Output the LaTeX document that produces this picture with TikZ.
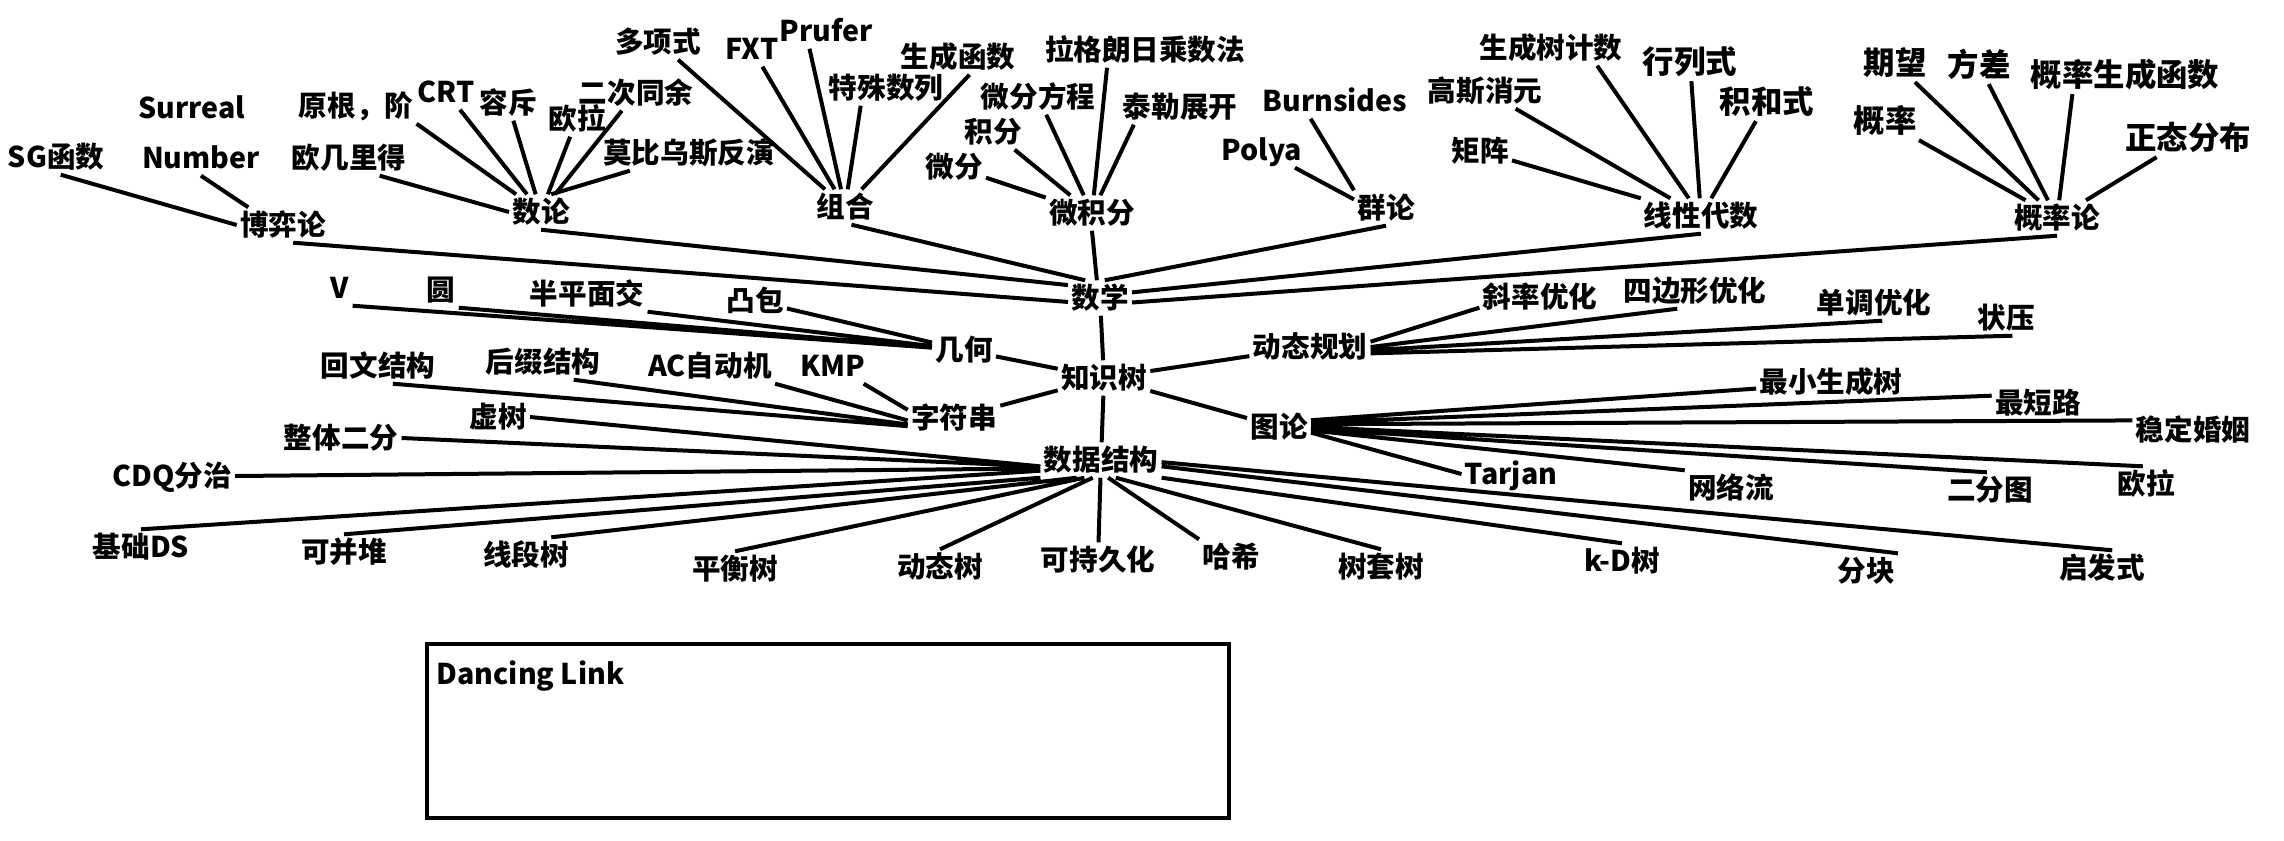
\documentclass[tikz,border=0pt]{standalone}
\usepackage{fontspec}
\setmainfont{Noto Sans CJK SC}
\usepackage{tikz}
\tikzset{
    kt-node/.style = {font=\bfseries\fontsize{10pt}{12pt}\selectfont, inner sep=1pt, text height=8.5pt, text depth=1.5pt},
    kt-big/.style = {kt-node, font=\bfseries\fontsize{11pt}{13pt}\selectfont, text height=9.4pt, text depth=1.6pt},
    kt-line/.style = {line width=1.4pt},
    dl-box/.style = {draw, line width=1.6pt, rectangle, inner sep=0pt, outer sep=0pt, anchor=north west, minimum width=280.7pt, minimum height=60.9pt},
}

\begin{document}
\begin{tikzpicture}[x=0.35pt, y=-0.35pt]
\useasboundingbox (0,0) rectangle (2284,840);

\node[kt-node] (shuxue) at (1100,298) {数学};
\node[kt-node] (zhishi) at (1104,378) {知识树};
\node[kt-node] (jihe) at (964,350) {几何};
\node[kt-node] (zifu) at (954,418) {字符串};
\node[kt-node] (sjjg) at (1101,460) {数据结构};
\node[kt-node] (dp) at (1310,347) {动态规划};
\node[kt-node] (tulun) at (1279,427) {图论};
\node[kt-node] (boyi) at (283,225) {博弈论};
\node[kt-node] (shulun) at (541,212) {数论};
\node[kt-node] (zuhe) at (845,207) {组合};
\node[kt-node] (wjf) at (1092,213) {微积分};
\node[kt-node] (qunlun) at (1386,208) {群论};
\node[kt-node] (xxds) at (1701,216) {线性代数};
\node[kt-node] (gll) at (2057,218) {概率论};

\node[kt-node] (sg) at (56,157) {SG函数};
\node[kt-node] (surreal) at (192,108) {Surreal};
\node[kt-node] (number) at (201,158) {Number};
\node[kt-node] (ojld) at (349,158) {欧几里得};
\node[kt-node] (yuangen) at (356,106) {原根，阶};
\node[kt-node] (crt) at (446,92) {CRT};
\node[kt-node] (rongchi) at (508,103) {容斥};
\node[kt-node] (oula) at (577,119) {欧拉};
\node[kt-node] (ercitong) at (636,93) {二次同余};
\node[kt-node] (mobius) at (689,153) {莫比乌斯反演};
\node[kt-node] (duoxiang) at (658,42) {多项式};
\node[kt-node] (fxt) at (752,49) {FXT};
\node[kt-node] (prufer) at (826,31) {Prufer};
\node[kt-node] (teshu) at (886,88) {特殊数列};
\node[kt-node] (shengcheng) at (958,57) {生成函数};
\node[kt-node] (weifen) at (954,167) {微分};
\node[kt-node] (jifen) at (993,132) {积分};
\node[kt-node] (wffc) at (1038,97) {微分方程};
\node[kt-node] (lagrange) at (1145,50) {拉格朗日乘数法};
\node[kt-node] (taylor) at (1180,107) {泰勒展开};
\node[kt-node] (polya) at (1262,150) {Polya};
\node[kt-node] (burnside) at (1335,101) {Burnsides};
\node[kt-node] (scsjs) at (1551,48) {生成树计数};
\node[kt-node] (gauss) at (1485,91) {高斯消元};
\node[kt-node] (juzhen) at (1480,151) {矩阵};
\node[kt-big] (hls) at (1690,62) {行列式};
\node[kt-big] (jhs) at (1767,102) {积和式};
\node[kt-big] (gailv) at (1885,121) {概率};
\node[kt-big] (qiwang) at (1895,63) {期望};
\node[kt-big] (fangcha) at (1979,65) {方差};
\node[kt-big] (pgf) at (2125,75) {概率生成函数};
\node[kt-big] (normal) at (2188,138) {正态分布};

\node[kt-node] (v) at (340,288) {V};
\node[kt-node] (yuan) at (441,290) {圆};
\node[kt-node] (bpm) at (587,294) {半平面交};
\node[kt-node] (tubao) at (755,301) {凸包};
\node[kt-node] (hwjg) at (378,366) {回文结构};
\node[kt-node] (hzjg) at (543,362) {后缀结构};
\node[kt-node] (ac) at (710,366) {AC自动机};
\node[kt-node] (kmp) at (833,366) {KMP};
\node[kt-node] (xushu) at (498,417) {虚树};
\node[kt-node] (ztef) at (341,438) {整体二分};
\node[kt-node] (cdq) at (172,476) {CDQ分治};
\node[kt-node] (jcds) at (141,547) {基础DS};
\node[kt-node] (kbd) at (344,552) {可并堆};
\node[kt-node] (xds) at (526,555) {线段树};
\node[kt-node] (phs) at (735,569) {平衡树};
\node[kt-node] (dts) at (940,567) {动态树};
\node[kt-node] (kcjh) at (1098,560) {可持久化};
\node[kt-node] (hash) at (1231,557) {哈希};
\node[kt-node] (sts) at (1381,567) {树套树};
\node[kt-node] (kdt) at (1622,561) {k-D树};
\node[kt-node] (fk) at (1866,571) {分块};
\node[kt-node] (qfs) at (2102,568) {启发式};

\node[kt-node] (xlyh) at (1540,297) {斜率优化};
\node[kt-node] (sbx) at (1695,291) {四边形优化};
\node[kt-node] (ddyh) at (1874,303) {单调优化};
\node[kt-node] (zhuangya) at (2006,318) {状压};
\node[kt-node] (zxsc) at (1831,382) {最小生成树};
\node[kt-node] (zdl) at (2038,403) {最短路};
\node[kt-node] (wdhy) at (2193,430) {稳定婚姻};
\node[kt-node] (oula2) at (2146,484) {欧拉};
\node[kt-node] (efi) at (1990,490) {二分图};
\node[kt-node] (wll) at (1731,488) {网络流};
\node[kt-node] (tarjan) at (1511,474) {Tarjan};

\node[dl-box] (dlbox) at (427,644) {};
\node[kt-node, anchor=north west, inner sep=0pt] (dltext) at ([shift={(9,16)}]dlbox.north west) {Dancing Link};

\draw[kt-line] (sg.-75) -- (boyi.west) (number.south) -- (boyi.153) (boyi.-60) -- (shuxue.187);
\draw[kt-line] (ojld.-30) -- (shulun.west) (yuangen.south east) -- (shulun) (crt) -- (shulun) (rongchi) -- (shulun) (oula) -- (shulun) (ercitong) -- (shulun) (mobius) -- (shulun.60) (shulun.south) -- (shuxue.158);
\draw[kt-line] (duoxiang) -- (zuhe) (fxt) -- (zuhe) (prufer.-133) -- (zuhe) (teshu.-145) -- (zuhe) (shengcheng.-57) -- (zuhe) (zuhe.-70) -- (shuxue.130);
\draw[kt-line] (weifen) -- (wjf) (jifen) -- (wjf) (wffc) -- (wjf) (lagrange.-155) -- (wjf) (taylor.-159) -- (wjf) (wjf.south) -- (shuxue.100);
\draw[kt-line] (polya) -- (qunlun.165) (burnside.-144) -- (qunlun.north west) (qunlun.south) -- (shuxue.75);
\draw[kt-line] (scsjs.-21) -- (xxds) (gauss) -- (xxds) (juzhen) -- (xxds) (hls) -- (xxds) (jhs) -- (xxds) (xxds.south) -- (shuxue.10);
\draw[kt-line] (gailv) -- (gll) (qiwang) -- (gll) (fangcha) -- (gll) (pgf.-160) -- (gll) (normal) -- (gll) (gll.south) -- (shuxue.-8);
\draw[kt-line] (v.south east) -- (jihe) (yuan.south east) -- (jihe) (bpm.south east) -- (jihe) (tubao) -- (jihe) (jihe) -- (zhishi);
\draw[kt-line] (hwjg.-50) -- (zifu.190) (hzjg.-30) -- (zifu.188) (ac.south east) -- (zifu.183) (kmp.-30) -- (zifu.170) (zifu) -- (zhishi);
\draw[kt-line] (zhishi) -- (shuxue) (zhishi) -- (dp) (zhishi) -- (tulun) (zhishi) -- (sjjg);
\draw[kt-line] (xushu.east) -- (sjjg.186) (ztef.east) -- (sjjg.186) (cdq.east) -- (sjjg.188) (jcds.north) -- (sjjg.190) (kbd.north) -- (sjjg.south west) (xds.35) -- (sjjg.-144) (phs.north) -- (sjjg.-133) (dts.north) -- (sjjg.-115) (kcjh) -- (sjjg);
\draw[kt-line] (sjjg.-68) -- (hash.north west) (sjjg.-50) -- (sts.north) (sjjg.south east) -- (kdt.north) (sjjg.-6) -- (fk.north east) (sjjg.-2) -- (qfs.60);
\draw[kt-line] (xlyh.190) -- (dp.5) (sbx.-135) -- (dp.east) (ddyh.-65) -- (dp.-3) (zhuangya.-70) -- (dp.-6);
\draw[kt-line] (zxsc.185) -- (tulun.12) (zdl.171) -- (tulun.8) (wdhy.171) -- (tulun.5) (oula2.100) -- (tulun.east) (efi.100) -- (tulun.-3) (wll.north west) -- (tulun.-6) (tarjan.west) -- (tulun.-10);
\end{tikzpicture}
\end{document}
